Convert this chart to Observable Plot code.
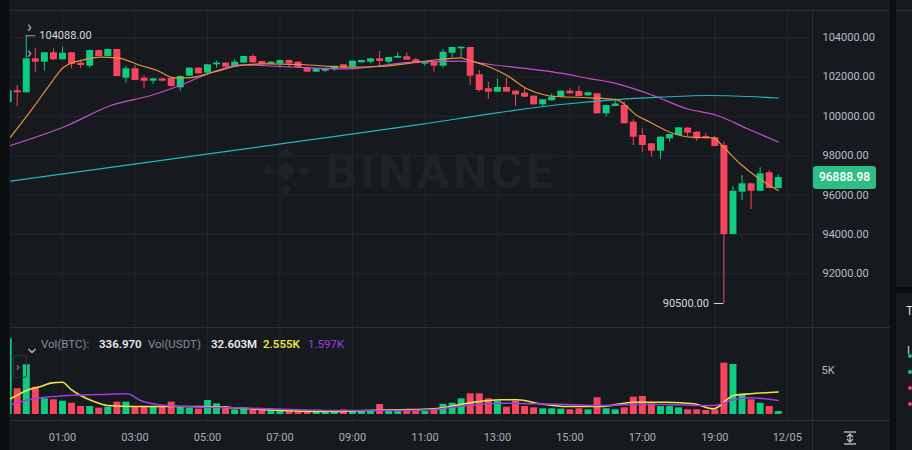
<!DOCTYPE html>
<html><head><meta charset="utf-8">
<script src="https://cdn.jsdelivr.net/npm/d3@7"></script>
<script src="https://cdn.jsdelivr.net/npm/@observablehq/plot@0.6"></script>
<style>
html,body{margin:0;padding:0;background:#161a1e;}
#wrap{position:relative;width:912px;height:450px;overflow:hidden;background:#161a1e;font-family:Roboto,"Noto Sans",sans-serif;}
#wrap svg{overflow:visible}
.abs{position:absolute}
.ln{position:absolute;background:#2a2e35}
.leg{position:absolute;top:337px;font-size:11.5px;line-height:14px;white-space:nowrap}
</style></head><body><div id="wrap"></div>
<script>
// ---- data (15-minute candles, BTC/USDT) ----
const times = ["23:30","23:45","00:00","00:15","00:30","00:45","01:00","01:15","01:30","01:45",
"02:00","02:15","02:30","02:45","03:00","03:15","03:30","03:45","04:00","04:15",
"04:30","04:45","05:00","05:15","05:30","05:45","06:00","06:15","06:30","06:45",
"07:00","07:15","07:30","07:45","08:00","08:15","08:30","08:45","09:00","09:15",
"09:30","09:45","10:00","10:15","10:30","10:45","11:00","11:15","11:30","11:45",
"12:00","12:15","12:30","12:45","13:00","13:15","13:30","13:45","14:00","14:15",
"14:30","14:45","15:00","15:15","15:30","15:45","16:00","16:15","16:30","16:45",
"17:00","17:15","17:30","17:45","18:00","18:15","18:30","18:45","19:00","19:15",
"19:30","19:45","20:00","20:15","20:30","20:45"];
const open = [100700,101294,101193,102919,102746,103223,102868,103223,102700,102543,
103340,103036,103391,101934,102411,101934,101782,101900,101934,101445,
102036,102442,102190,102614,102700,102493,102700,103036,102782,102650,
102666,102832,102746,102470,102239,102289,102360,102614,102492,102716,
102746,102919,102746,102950,103020,102868,102645,102746,102543,103203,
103426,103492,102107,101396,101224,101462,101275,101173,101020,100584,
100787,100970,101275,101260,101040,101142,100127,100500,100550,99700,
99025,98604,98229,98857,99025,99400,99193,98975,98908,98518,
94000,96148,96574,96198,97132,96335];
const high = [101500,101564,104088,103426,103240,103426,103508,103240,102832,103360,
103360,103410,103410,102543,102579,102071,101934,101934,101950,102060,
102460,102460,102630,102797,102720,102868,103050,103137,102800,102760,
102850,102850,102760,102500,102420,102420,102560,102630,102810,102850,
102930,103289,103000,103223,103203,102970,102730,102760,103391,103500,
103520,103508,102325,101731,101904,101935,101300,101396,101040,100850,
101142,101290,101396,101513,101210,101160,100560,100889,100716,99822,
99366,98620,98960,99090,99430,99420,99210,99142,98975,98686,
96437,96995,96600,97386,97250,97030];
const low = [100600,100498,101173,102239,102289,102830,102850,102411,102442,102442,
103020,103020,102000,101680,101800,101396,101614,101750,101480,101274,
102020,102140,102170,102442,102480,102480,102690,102700,102610,102640,
102442,102442,102440,102220,102220,102208,102274,102430,102411,102700,
102665,102492,102645,102940,102840,102670,102543,102239,102442,102970,
102970,101564,101224,100853,101210,101210,100498,100950,100570,100462,
100770,100950,101130,100990,101020,100110,99954,100480,99600,98518,
98178,97924,97807,98686,99010,98975,98737,98840,98450,90500,
93980,95726,95270,96180,96320,96320];
const close = [101294,101193,102919,102746,103223,102868,103200,102629,102579,103340,
103036,103391,102020,102411,101817,101782,101900,101782,101513,102020,
102442,102157,102614,102700,102493,102746,103036,102716,102629,102746,
102832,102666,102462,102239,102411,102411,102543,102442,102797,102832,
102919,102782,102985,103036,102848,102680,102716,102543,103254,103492,
103508,102036,101310,101224,101462,101224,101091,100970,100584,100838,
100970,101275,101142,101005,101193,100127,100550,100620,99620,98940,
98518,98229,98940,99076,99417,99143,98857,98857,98467,94000,
96198,96574,96198,97081,96335,96888.98];
const volume = [8600,2920,5650,3100,1780,1670,1510,1280,910,910,
720,830,1400,1400,910,910,910,910,1400,830,
720,615,1590,1210,910,530,760,530,615,530,
450,450,450,450,340,340,340,530,450,340,
340,1140,530,450,450,450,340,450,1140,1280,
1780,2350,2350,1780,1510,830,1510,910,760,650,
650,615,530,650,530,1900,650,530,760,1970,
2050,1210,910,910,760,530,530,450,530,5830,
5680,2160,1670,1280,910,336.97];

// moving-average lines
const ma7 = [["23:34",98939],["00:12",100462],["00:40",101650],["01:02",102492],["01:35",102868],["02:03",103000],["02:31",102970],["03:09",102579],["03:37",102325],["04:05",101954],["04:27",101954],["05:10",102239],["05:54",102579],["06:39",102665],["07:34",102630],["08:51",102492],["09:46",102528],["11:09",102832],["11:59",102970],["12:10",102868],["12:48",102492],["13:16",102071],["13:49",101396],["14:22",101056],["14:39",101005],["15:34",100939],["16:18",100838],["16:51",100041],["17:13",99700],["17:46",99193],["18:20",98939],["18:57",98909],["19:15",98416],["19:42",97589],["20:10",96909],["20:45",96234]];
const ma25 = [["23:34",98518],["01:08",99533],["02:20",100548],["03:26",101056],["04:10",101513],["05:16",102325],["05:54",102614],["07:01",102528],["08:51",102411],["10:41",102746],["11:59",102797],["12:48",102629],["14:45",102188],["15:34",101904],["16:07",101731],["17:18",101056],["18:14",100381],["19:04",100041],["19:54",99366],["20:45",98696]];
const ma99 = [["23:34",96706],["03:26",97686],["07:34",98736],["10:53",99589],["12:48",100127],["14:45",100599],["16:12",100838],["17:30",100970],["18:52",101056],["20:45",100929]];
const volMaA = [["23:34",1784],["00:01",2726],["00:29",3294],["00:40",3560],["01:00",3669],["01:13",2920],["01:30",2158],["01:52",1477],["02:14",1022],["02:58",909],["03:53",909],["04:48",909],["05:43",761],["06:39",534],["07:34",375],["08:29",341],["09:24",454],["10:20",534],["11:15",648],["12:10",1284],["13:05",1670],["13:33",1670],["14:11",1216],["14:56",909],["15:51",909],["16:46",1397],["17:41",1397],["18:25",1216],["18:58",648],["19:31",2158],["19:59",2352],["20:45",2555]];
const volMaB = [["23:34",1136],["00:12",1784],["01:08",2158],["02:03",2272],["02:47",2352],["03:09",1590],["03:37",1136],["04:21",909],["05:43",761],["07:06",602],["08:29",454],["10:20",454],["11:15",568],["12:10",1022],["13:05",1284],["14:00",1216],["14:56",1136],["15:51",1022],["16:46",1136],["17:41",1136],["18:36",1022],["18:58",1022],["19:31",1670],["19:59",1897],["20:45",1597]];

const priceTicks = [92000,94000,96000,98000,100000,102000,104000];
const volTicks = [5000];
const tickTimes = ["01:00","03:00","05:00","07:00","09:00","11:00","13:00","15:00","17:00","19:00","21:00"];
const tickLabels = ["01:00","03:00","05:00","07:00","09:00","11:00","13:00","15:00","17:00","19:00","12/05"];
const legendTexts = ["Vol(BTC):","336.970","Vol(USDT)","32.603M","2.555K","1.597K"];

// ---- build ----
const T = s => { const [h,m] = s.split(":").map(Number); return new Date(Date.UTC(2024, 11, h >= 23 ? 3 : 4, h, m)); };
const candles = times.map((t,i)=>({t:T(t), o:open[i], h:high[i], l:low[i], c:close[i], v:volume[i]}));
const pts = arr => arr.map(([t,v])=>({t:T(t), v}));
const GREEN="#0ecb81", RED="#f6465d", GRID="#22262c";
const col = d => d.c >= d.o ? GREEN : RED;
const xDomain = [new Date(Date.UTC(2024,11,3,23,33,54)), new Date(Date.UTC(2024,11,4,21,41,42))];
const tickDates = tickTimes.map(T);
const labelMap = new Map(tickDates.map((d,i)=>[+d, tickLabels[i]]));
const hi = candles.reduce((a,b)=> b.h > a.h ? b : a);
const lo = candles.reduce((a,b)=> b.l < a.l ? b : a);
const last = candles[candles.length-1];
const MIN = 60000;
const FONT = "Roboto, 'Noto Sans', sans-serif";

const wrap = document.getElementById("wrap");

const price = Plot.plot({
  width: 890, height: 327, marginLeft: 10, marginRight: 78, marginTop: 10, marginBottom: 0,
  x: {type: "utc", domain: xDomain, axis: null},
  y: {domain: [89280, 105370], axis: null},
  color: {type: "identity"},
  style: {background: "transparent", color: "#b7bdc6", fontSize: "11px", fontFamily: FONT},
  marks: [
    Plot.gridY(priceTicks, {stroke: GRID, strokeOpacity: 1}),
    Plot.gridX(tickDates, {stroke: GRID, strokeOpacity: 1}),
    Plot.ruleX(candles, {x: "t", y1: "l", y2: "h", stroke: col, strokeWidth: 1, clip: true}),
    Plot.ruleX(candles, {x: "t", y1: "o", y2: "c", stroke: col, strokeWidth: 7, clip: true}),
    Plot.line(pts(ma99), {x: "t", y: "v", stroke: "#27b4c4", strokeWidth: 1.2, curve: "monotone-x", clip: true}),
    Plot.line(pts(ma25), {x: "t", y: "v", stroke: "#c64fd0", strokeWidth: 1.2, curve: "monotone-x", clip: true}),
    Plot.line(pts(ma7), {x: "t", y: "v", stroke: "#e2953d", strokeWidth: 1.2, curve: "monotone-x", clip: true}),
    Plot.ruleY([hi], {x1: "t", x2: d => new Date(+d.t + 16*MIN), y: "h", stroke: "#9aa1aa", strokeWidth: 1}),
    Plot.text([hi], {x: "t", y: "h", text: d => d.h.toFixed(2), dx: 13, textAnchor: "start", fill: "#d5d9de", fontSize: 11}),
    Plot.ruleY([lo], {x1: d => new Date(+d.t - 16*MIN), x2: "t", y: "l", stroke: "#d5d9de", strokeWidth: 1}),
    Plot.text([lo], {x: "t", y: "l", text: d => d.l.toFixed(2), dx: -15, textAnchor: "end", fill: "#d5d9de", fontSize: 11}),
    Plot.axisY(priceTicks, {anchor: "right", tickSize: 0, tickPadding: 10, tickFormat: d => d.toFixed(2), fill: "#b7bdc6", label: null})
  ]
});
price.style.position = "absolute"; price.style.left = "0px"; price.style.top = "0px";

const vol = Plot.plot({
  width: 890, height: 122, marginLeft: 10, marginRight: 78, marginTop: 0, marginBottom: 30,
  x: {type: "utc", domain: xDomain, axis: null},
  y: {domain: [-682, 9770], axis: null},
  color: {type: "identity"},
  style: {background: "transparent", color: "#b7bdc6", fontSize: "11px", fontFamily: FONT},
  marks: [
    Plot.gridX(tickDates, {stroke: GRID, strokeOpacity: 1}),
    Plot.ruleX(candles, {x: "t", y1: 0, y2: "v", stroke: col, strokeWidth: 7, clip: true}),
    Plot.line(pts(volMaA), {x: "t", y: "v", stroke: "#efe24a", strokeWidth: 1.6, curve: "monotone-x", clip: true}),
    Plot.line(pts(volMaB), {x: "t", y: "v", stroke: "#9b3fe3", strokeWidth: 1.6, curve: "monotone-x", clip: true}),
    Plot.axisY(volTicks, {anchor: "right", tickSize: 0, tickPadding: 9, tickFormat: d => (d/1000) + "K", fill: "#b7bdc6", label: null}),
    Plot.axisX(tickDates, {tickSize: 0, tickPadding: 13, tickFormat: d => labelMap.get(+d), fill: "#aab0b8", label: null})
  ]
});
vol.style.position = "absolute"; vol.style.left = "0px"; vol.style.top = "328px";

// watermark (behind)
const wm = document.createElement("div");
wm.className = "abs"; wm.style.left = "258px"; wm.style.top = "146px";
wm.innerHTML = `<svg width="56" height="50" viewBox="0 0 56 50">
<g fill="#1f2329">
<rect x="21" y="18" width="14" height="14" transform="rotate(45 28 25)"/>
<rect x="24" y="3" width="8" height="8" transform="rotate(45 28 7)"/>
<rect x="24" y="39" width="8" height="8" transform="rotate(45 28 43)"/>
<rect x="6" y="21" width="8" height="8" transform="rotate(45 10 25)"/>
<rect x="42" y="21" width="8" height="8" transform="rotate(45 46 25)"/>
</g></svg>`;
wrap.appendChild(wm);
const wmt = document.createElement("div");
wmt.className = "abs"; wmt.textContent = "BINANCE";
Object.assign(wmt.style, {left: "326px", top: "143px", fontSize: "48px", fontWeight: "700", color: "#1f2329", letterSpacing: "4px", fontFamily: FONT});
wrap.appendChild(wmt);

wrap.appendChild(price);
wrap.appendChild(vol);

// frame lines
const line = (l,t,w,h,c) => { const d = document.createElement("div"); d.className="ln"; Object.assign(d.style,{left:l+"px",top:t+"px",width:w+"px",height:h+"px"}); if(c) d.style.background=c; wrap.appendChild(d); };
line(0,0,9,450,"#0b0e11");
line(10,10,880,1);
line(10,327,880,1);
line(10,420,880,1);
line(812,10,1,440);
line(890,0,6,450,"#0b0e11");
line(896,287,16,6,"#0b0e11");
line(896,10,16,1);

// current price tag
const py = price.scale("y").apply(last.c);
const tag = document.createElement("div");
tag.className = "abs"; tag.textContent = last.c.toFixed(2);
Object.assign(tag.style, {left: "813px", top: (py - 11.5) + "px", width: "63px", height: "23px", lineHeight: "23px", textAlign: "center", background: "#2ebd85", color: "#ffffff", fontSize: "12px", fontWeight: "500", borderRadius: "3px"});
wrap.appendChild(tag);

// small chevrons
const addTxt = (txt,l,t,st) => { const d=document.createElement("div"); d.className="abs"; d.textContent=txt; Object.assign(d.style,{left:l+"px",top:t+"px"},st||{}); wrap.appendChild(d); return d; };
addTxt("›", 27, 17, {fontSize:"16px", color:"#9aa1aa", fontWeight:"700"});
addTxt("›", 27, 43, {fontSize:"16px", color:"#9aa1aa", fontWeight:"700"});
const box = document.createElement("div"); box.className="abs";
Object.assign(box.style,{left:"13px",top:"355px",width:"12px",height:"21px",border:"1px solid #2f343b",borderRadius:"3px"});
wrap.appendChild(box);
addTxt("›", 16, 360, {fontSize:"12px", color:"#9aa1aa"});

// volume legend
const chev = document.createElement("div"); chev.className="abs"; chev.style.left="27px"; chev.style.top="340px";
chev.innerHTML = `<svg width="10" height="8"><polyline points="1.5,2 5,5.5 8.5,2" fill="none" stroke="#b7bdc6" stroke-width="1.5"/></svg>`;
wrap.appendChild(chev);
const legPos = [41, 99, 148, 211, 263, 308];
const legCol = ["#848e9c","#eaecef","#848e9c","#eaecef","#efe24a","#9b3fe3"];
const legW = ["400","600","400","600","600","400"];
legendTexts.forEach((s,i)=>{ const d=document.createElement("div"); d.className="leg"; d.textContent=s; Object.assign(d.style,{left:legPos[i]+"px",color:legCol[i],fontWeight:legW[i]}); wrap.appendChild(d); });

// bottom-right icon
const ic = document.createElement("div"); ic.className="abs"; ic.style.left="843px"; ic.style.top="430px";
ic.innerHTML = `<svg width="14" height="14"><g stroke="#b7bdc6" stroke-width="1.4" fill="none"><line x1="1" y1="1" x2="13" y2="1"/><line x1="1" y1="13" x2="13" y2="13"/><line x1="7" y1="3" x2="7" y2="11"/><polyline points="4,6 7,3 10,6"/><polyline points="4,8 7,11 10,8"/></g></svg>`;
wrap.appendChild(ic);

// right-edge partial UI
addTxt("T", 906, 304, {fontSize:"12px", color:"#d5d9de"});
addTxt("I", 907, 344, {fontSize:"11px", color:"#d5d9de"});
[["#0ecb81",354],["#0ecb81",370],["#f6465d",386],["#f6465d",402]].forEach(([c,t])=>{ const d=document.createElement("div"); d.className="abs"; Object.assign(d.style,{left:"908px",top:t+"px",width:"4px",height:"4px",borderRadius:"2px",background:c}); wrap.appendChild(d); });
</script></body></html>
